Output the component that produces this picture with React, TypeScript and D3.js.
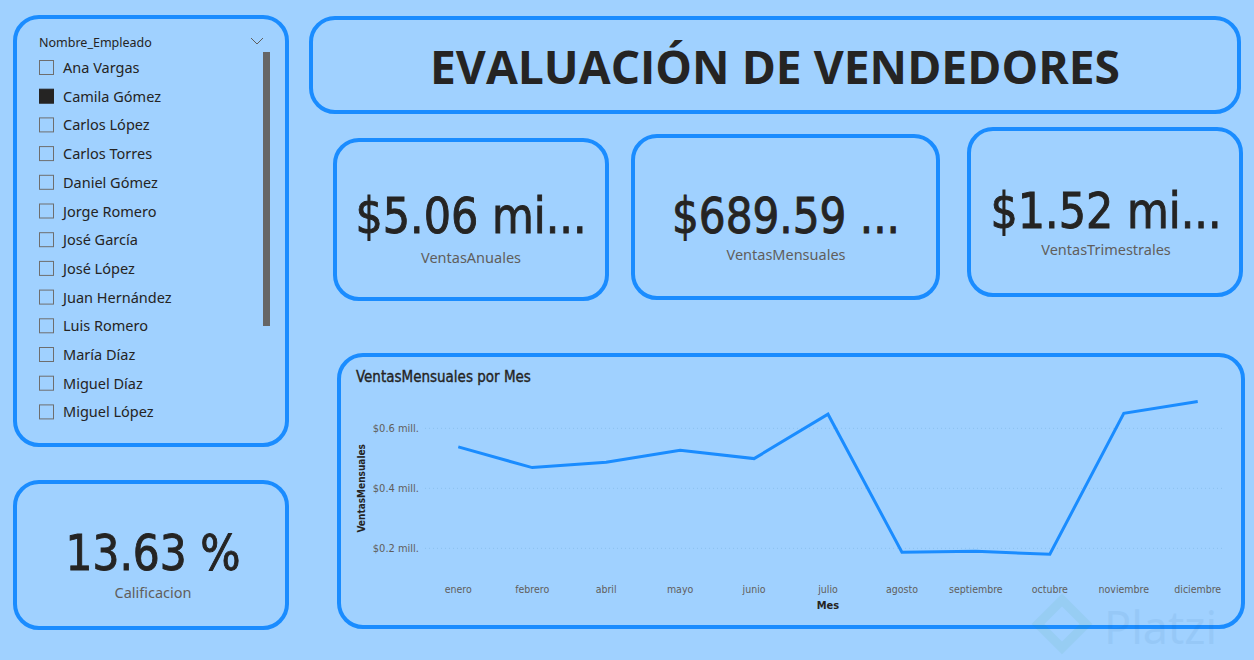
import React from 'react';
import * as d3 from 'd3';

const W = 1254;
const H = 660;

// Monthly sales (millions) for the selected seller
const months = ['enero', 'febrero', 'abril', 'mayo', 'junio', 'julio', 'agosto', 'septiembre', 'octubre', 'noviembre', 'diciembre'];
const ventasMensuales = [0.538, 0.469, 0.487, 0.527, 0.499, 0.647, 0.187, 0.19, 0.18, 0.65, 0.68959];
const yTicks = [0.2, 0.4, 0.6];

const empleados = [
  'Ana Vargas', 'Camila Gómez', 'Carlos López', 'Carlos Torres', 'Daniel Gómez', 'Jorge Romero',
  'José García', 'José López', 'Juan Hernández', 'Luis Romero', 'María Díaz', 'Miguel Díaz', 'Miguel López',
];
const selectedEmpleado = 'Camila Gómez';

const kpiValues = ['$5.06 mi...', '$689.59 ...', '$1.52 mi...'];
const kpiLabels = ['VentasAnuales', 'VentasMensuales', 'VentasTrimestrales'];
const calificacionValue = '13.63 %';
const calificacionLabel = 'Calificacion';

const BG = '#A0D1FF';
const BORDER = '#1A8CFF';
const LINE = '#1A8CFF';
const DARK = '#252423';
const GREY = '#605E5C';
const NUM_FONT = '"DejaVu Sans Condensed", "Roboto Condensed", Roboto, sans-serif';
const UI_FONT = '"Segoe UI", "Noto Sans", "Open Sans", sans-serif';

function Card({ x, y, w, h, r = 24 }: { x: number; y: number; w: number; h: number; r?: number }) {
  return <rect x={x} y={y} width={w} height={h} rx={r} ry={r} fill={BG} stroke={BORDER} strokeWidth={4} />;
}

export default function App() {
  const x = d3.scaleBand<string>().domain(months).range([421.3, 1234.7]).padding(0);
  const y = d3.scaleLinear().domain([0.1, 0.7]).range([578.3, 398.3]);
  const cx = (m: string) => (x(m) as number) + x.bandwidth() / 2;
  const line = d3
    .line<number>()
    .x((_, i) => cx(months[i]))
    .y((v) => y(v));

  const kpiBoxes = [
    { x: 335, y: 140, w: 272, h: 159, vx: 471, vy: 233, ly: 263, tl: 231 },
    { x: 633, y: 136, w: 305, h: 162, vx: 786, vy: 233, ly: 260, tl: 228 },
    { x: 969, y: 129, w: 272, h: 166, vx: 1106, vy: 228, ly: 255, tl: 231 },
  ];

  const rowY = (i: number) => 68 + i * 28.7;

  return (
    <div style={{ position: 'absolute', left: 0, top: 0 }}>
      <svg width={W} height={H} style={{ display: 'block' }}>
        <rect x={0} y={0} width={W} height={H} fill={BG} />

        {/* Employee slicer */}
        <Card x={15} y={17} w={272} h={428} />
        <text x={39} y={47} fontFamily={UI_FONT} fontSize={12.5} fill={DARK}>Nombre_Empleado</text>
        <path d="M251,38 L257,44 L263,38" fill="none" stroke={GREY} strokeWidth={1} />
        <rect x={263} y={52} width={7} height={274} fill="#666666" />
        {empleados.map((name, i) => {
          const cy = rowY(i);
          const sel = name === selectedEmpleado;
          return (
            <g key={name}>
              <rect x={39.5} y={cy - 7.5} width={14} height={14}
                fill={sel ? DARK : 'none'} stroke={sel ? DARK : '#6E6E6E'} strokeWidth={1} />
              <text x={63} y={cy + 5} fontFamily={UI_FONT} fontSize={14.5} fill={DARK}>{name}</text>
            </g>
          );
        })}

        {/* Calificacion card */}
        <Card x={15} y={482} w={272} h={146} />
        <text x={153} y={570} textAnchor="middle" fontFamily={NUM_FONT} fontSize={49} fill={DARK}
          stroke={DARK} strokeWidth={0.9} textLength={175} lengthAdjust="spacingAndGlyphs">{calificacionValue}</text>
        <text x={153} y={598} textAnchor="middle" fontFamily={UI_FONT} fontSize={14.5} fill={GREY}>{calificacionLabel}</text>

        {/* Title */}
        <Card x={311} y={18} w={928} h={94} />
        <text x={775} y={84} textAnchor="middle" fontFamily={'"Open Sans", "Noto Sans", sans-serif'} fontWeight={700}
          fontSize={47} fill={DARK} textLength={690} lengthAdjust="spacingAndGlyphs">EVALUACIÓN DE VENDEDORES</text>

        {/* KPI cards */}
        {kpiBoxes.map((b, i) => (
          <g key={kpiLabels[i]}>
            <Card x={b.x} y={b.y} w={b.w} h={b.h} />
            <text x={b.vx} y={b.vy} textAnchor="middle" fontFamily={NUM_FONT} fontSize={49} fill={DARK}
              stroke={DARK} strokeWidth={0.9} textLength={b.tl} lengthAdjust="spacingAndGlyphs">{kpiValues[i]}</text>
            <text x={b.vx} y={b.ly} textAnchor="middle" fontFamily={UI_FONT} fontSize={14.5} fill={GREY}>{kpiLabels[i]}</text>
          </g>
        ))}

        {/* Line chart */}
        <Card x={339} y={355} w={904} h={272} />
        <text x={356} y={382} fontFamily={NUM_FONT} fontSize={15} fill={DARK} stroke={DARK} strokeWidth={0.35}>
          VentasMensuales por Mes
        </text>
        {yTicks.map((t) => (
          <g key={t}>
            <line x1={425} x2={1225} y1={y(t)} y2={y(t)} stroke="#8AC0EE" strokeWidth={1} strokeDasharray="1 3" />
            <text x={419} y={y(t) + 4} textAnchor="end" fontFamily={NUM_FONT} fontSize={11} fill={GREY}>
              {`$${t.toFixed(1)} mill.`}
            </text>
          </g>
        ))}
        <text transform={`translate(365,${y(0.4)}) rotate(-90)`} textAnchor="middle" fontFamily={NUM_FONT}
          fontSize={10} fontWeight={600} fill={DARK}>VentasMensuales</text>
        <path d={line(ventasMensuales) || ''} fill="none" stroke={LINE} strokeWidth={3} strokeLinejoin="miter" />
        {months.map((m) => (
          <text key={m} x={cx(m)} y={593} textAnchor="middle" fontFamily={NUM_FONT} fontSize={10.5} fill={GREY}>{m}</text>
        ))}
        <text x={828} y={609} textAnchor="middle" fontFamily={NUM_FONT} fontSize={11} fontWeight={600} fill={DARK}>Mes</text>

        {/* Watermark */}
        <g opacity={0.07}>
          <path d="M1062,600 L1086,624 L1062,648 L1038,624 Z" fill="none" stroke="#2a9d6a" strokeWidth={9} />
          <text x={1104} y={644} fontFamily={UI_FONT} fontSize={45} fill="#1a5f9a">Platzi</text>
        </g>
      </svg>
    </div>
  );
}
